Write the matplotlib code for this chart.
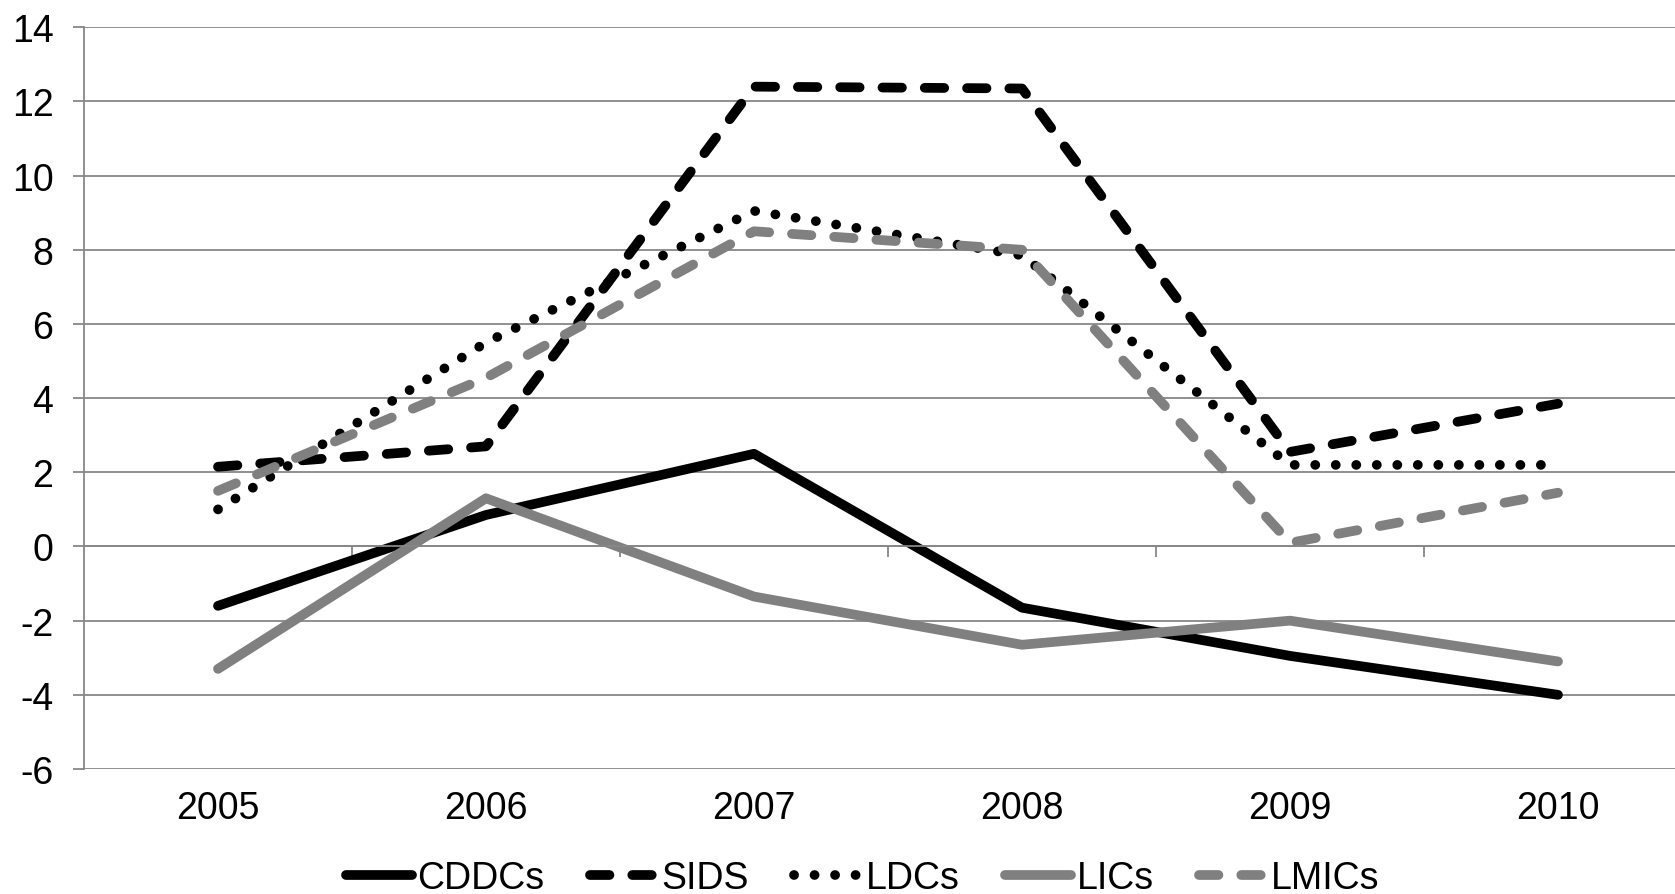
import matplotlib
matplotlib.use("Agg")
import matplotlib.pyplot as plt

plt.rcParams["font.family"] = ["Liberation Sans", "DejaVu Sans"]
plt.rcParams["axes.unicode_minus"] = False

years = ["2005", "2006", "2007", "2008", "2009", "2010"]
cddcs = [-1.6, 0.85, 2.5, -1.65, -2.95, -4.0]
sids = [2.15, 2.7, 12.4, 12.35, 2.55, 3.85]
ldcs = [1.0, 5.5, 9.05, 7.85, 2.2, 2.2]
lics = [-3.3, 1.3, -1.35, -2.65, -2.0, -3.1]
lmics = [1.5, 4.55, 8.5, 8.0, 0.1, 1.45]

grid_col = "#878787"
gray = "#808080"
lw = 7
fs = 27
dash = (2.0, 2.35)
dot = (0.01, 2.1)

fig = plt.figure(figsize=(16.75, 8.95), dpi=100)
# axis box runs a bit past the right edge, like the cropped original
ax = fig.add_axes([84 / 1675, 1 - 770 / 895, 6 * 268 / 1675, (770 - 28.3) / 895])

x = list(range(len(years)))

ax.plot(x, cddcs, color="black", lw=lw, solid_capstyle="round", label="CDDCs")
ax.plot(x, sids, color="black", lw=lw, dashes=dash,
        dash_capstyle="round", label="SIDS")
ax.plot(x, ldcs, color="black", lw=lw, dashes=dot,
        dash_capstyle="round", label="LDCs")
ax.plot(x, lics, color=gray, lw=lw, solid_capstyle="round", label="LICs")
ax.plot(x, lmics, color=gray, lw=lw, dashes=dash,
        dash_capstyle="round", label="LMICs")

ax.set_xlim(-0.5, 5.5)
ax.set_ylim(-6, 14)
ax.set_yticks(range(-6, 15, 2))
ax.set_xticks(x)
ax.set_xticklabels(years)

ax.grid(axis="y", color=grid_col, lw=1.3)
ax.set_axisbelow(True)

for side in ["right", "bottom"]:
    ax.spines[side].set_visible(False)
ax.spines["left"].set_color(grid_col)
ax.spines["left"].set_linewidth(1.3)

# category axis crosses at zero, tick marks between categories
ax.spines["top"].set_position(("data", 0))
ax.spines["top"].set_color(grid_col)
ax.spines["top"].set_linewidth(1.3)
ax.set_xticks([i + 0.5 for i in range(5)], minor=True)
ax.tick_params(axis="x", which="minor", top=True, bottom=False, direction="in",
               length=8, width=1.3, color=grid_col)
ax.tick_params(axis="x", which="major", bottom=True, top=False, length=0,
               pad=15, labelsize=fs)
ax.tick_params(axis="y", length=8, width=1.3, color=grid_col, pad=14, labelsize=fs)

fig.legend(loc="center", bbox_to_anchor=(0.515, 1 - 879 / 895), ncol=5,
           frameon=False, fontsize=fs, handlelength=1.77, handletextpad=0.15,
           columnspacing=1.2, borderpad=0, borderaxespad=0)

fig.savefig("out.png", dpi=100)
